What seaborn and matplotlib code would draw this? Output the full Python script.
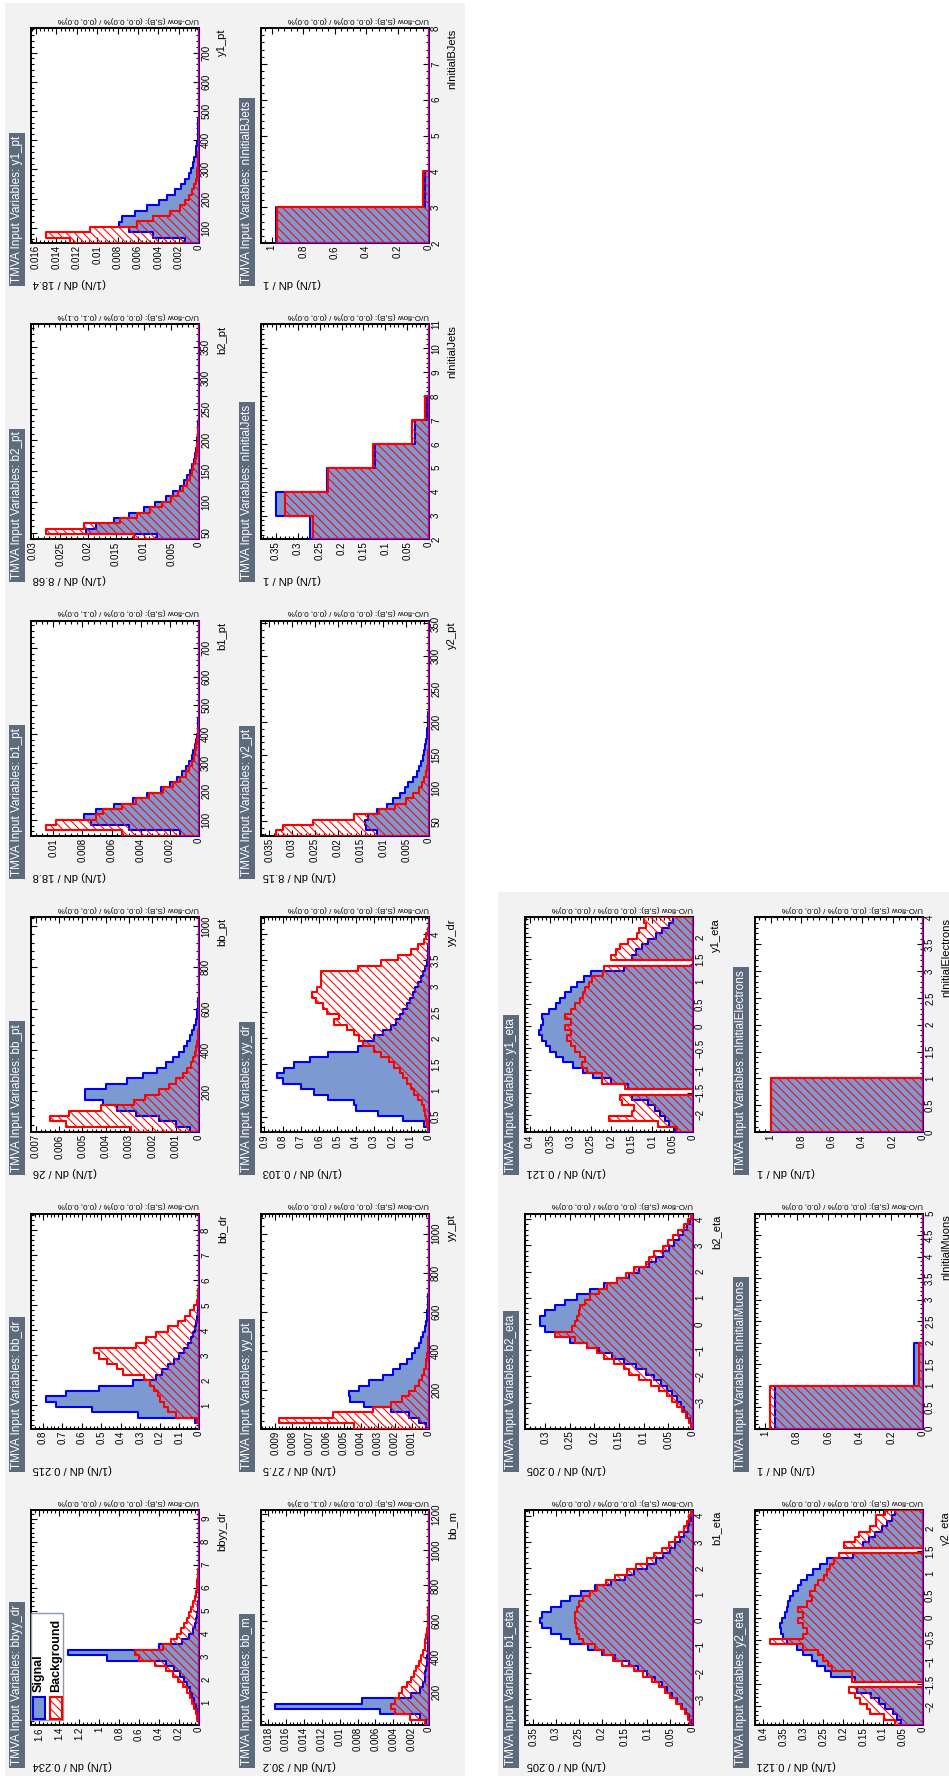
import numpy as np
import matplotlib
matplotlib.use("Agg")
import matplotlib.pyplot as plt
import seaborn as sns
from matplotlib.patches import Rectangle
from matplotlib.ticker import MultipleLocator, AutoMinorLocator, FuncFormatter

plt.rcParams["font.family"] = ["Liberation Sans", "DejaVu Sans"]
plt.rcParams["hatch.linewidth"] = 0.75
plt.rcParams["hatch.color"] = "#ff0000"

# ---------------------------------------------------------------- data
variables = ["bbyy_dr", "bb_m", "bb_dr", "yy_pt", "bb_pt", "yy_dr",
             "b1_pt", "y2_pt", "b2_pt", "nInitialJets", "y1_pt", "nInitialBJets",
             "b1_eta", "y2_eta", "b2_eta", "nInitialMuons", "y1_eta", "nInitialElectrons"]

range_lo = [0.02, 16, 0.05, 2, 3, 0.2,
            44, 28, 39, 2, 48, 2,
            -3.98, -2.42, -3.99, 0, -2.39, 0]
bin_width = [0.234, 30.2, 0.215, 27.5, 26, 0.103,
             18.8, 8.15, 8.68, 1, 18.4, 1,
             0.205, 0.121, 0.205, 1, 0.121, 1]
n_bins = [40, 40, 40, 40, 40, 40,
          40, 40, 40, 9, 40, 6,
          40, 40, 40, 5, 40, 4]
width_labels = ["0.234", "30.2", "0.215", "27.5", "26", "0.103",
                "18.8", "8.15", "8.68", "1", "18.4", "1",
                "0.205", "0.121", "0.205", "1", "0.121", "1"]
density_top = [1.683, 0.0188, 0.86, 0.00984, 0.00721, 0.918,
               0.01153, 0.0368, 0.0303, 0.384, 0.0165, 1.068,
               0.368, 0.421, 0.341, 1.064, 0.412, 1.103]
density_step = [0.2, 0.002, 0.1, 0.001, 0.001, 0.1,
                0.002, 0.005, 0.005, 0.05, 0.002, 0.2,
                0.05, 0.05, 0.05, 0.2, 0.05, 0.2]
var_step = [1, 200, 1, 200, 200, 0.5,
            100, 50, 50, 1, 100, 1,
            1, 0.5, 1, 0.5, 0.5, 0.5]
uoflow = ["U/O-flow (S,B): (0.0, 0.0)% / (0.0, 0.0)%",
          "U/O-flow (S,B): (0.0, 0.0)% / (0.1, 0.3)%",
          "U/O-flow (S,B): (0.0, 0.0)% / (0.0, 0.0)%",
          "U/O-flow (S,B): (0.0, 0.0)% / (0.0, 0.0)%",
          "U/O-flow (S,B): (0.0, 0.0)% / (0.0, 0.0)%",
          "U/O-flow (S,B): (0.0, 0.0)% / (0.0, 0.0)%",
          "U/O-flow (S,B): (0.0, 0.0)% / (0.1, 0.0)%",
          "U/O-flow (S,B): (0.0, 0.0)% / (0.0, 0.0)%",
          "U/O-flow (S,B): (0.0, 0.0)% / (0.1, 0.1)%",
          "U/O-flow (S,B): (0.0, 0.0)% / (0.0, 0.0)%",
          "U/O-flow (S,B): (0.0, 0.0)% / (0.0, 0.0)%",
          "U/O-flow (S,B): (0.0, 0.0)% / (0.0, 0.0)%",
          "U/O-flow (S,B): (0.0, 0.0)% / (0.0, 0.0)%",
          "U/O-flow (S,B): (0.0, 0.0)% / (0.0, 0.0)%",
          "U/O-flow (S,B): (0.0, 0.0)% / (0.0, 0.0)%",
          "U/O-flow (S,B): (0.0, 0.0)% / (0.0, 0.0)%",
          "U/O-flow (S,B): (0.0, 0.0)% / (0.0, 0.0)%",
          "U/O-flow (S,B): (0.0, 0.0)% / (0.0, 0.0)%"]

sig_bbyy_dr = [0.0, 0.01, 0.02, 0.035, 0.05, 0.07, 0.09, 0.12, 0.15, 0.19,
               0.25, 0.33, 0.92, 1.31, 0.40, 0.17, 0.10, 0.065, 0.045, 0.03,
               0.02, 0.013, 0.008, 0.005, 0.003, 0.002, 0.001] + [0.0] * 13
bkg_bbyy_dr = [0.005, 0.02, 0.035, 0.05, 0.07, 0.09, 0.12, 0.16, 0.21, 0.26,
               0.33, 0.44, 0.60, 0.64, 0.36, 0.28, 0.22, 0.18, 0.15, 0.12,
               0.10, 0.08, 0.06, 0.045, 0.035, 0.025, 0.018, 0.012, 0.008, 0.005,
               0.003, 0.002, 0.001] + [0.0] * 7

sig_bb_m = [0.0003, 0.0010, 0.0055, 0.0172, 0.0075, 0.0020, 0.0010, 0.0007, 0.0005, 0.0004,
            0.0003, 0.00025, 0.0002, 0.00015, 0.00012, 0.0001, 0.00008, 0.00006, 0.00005, 0.00004,
            0.00003, 0.00002, 0.00002, 0.00001, 0.00001] + [0.0] * 15
bkg_bb_m = [0.0005, 0.0021, 0.0038, 0.0043, 0.0038, 0.0034, 0.0030, 0.0025, 0.0020, 0.0017,
            0.0014, 0.0011, 0.0009, 0.0007, 0.0005, 0.0004, 0.0003, 0.00022, 0.00016, 0.00012,
            0.00009, 0.00007, 0.00005, 0.00004, 0.00003, 0.00002, 0.00001, 0.00001] + [0.0] * 12

sig_bb_dr = [0.0, 0.02, 0.31, 0.55, 0.73, 0.785, 0.68, 0.51, 0.34, 0.22,
             0.19, 0.16, 0.13, 0.10, 0.075, 0.055, 0.04, 0.03, 0.022, 0.015,
             0.01, 0.007, 0.005, 0.003, 0.002, 0.001, 0.001] + [0.0] * 13
bkg_bb_dr = [0.0, 0.01, 0.12, 0.16, 0.18, 0.20, 0.21, 0.23, 0.25, 0.28,
             0.39, 0.42, 0.47, 0.51, 0.54, 0.32, 0.27, 0.22, 0.16, 0.11,
             0.07, 0.045, 0.025, 0.012, 0.006, 0.003, 0.002, 0.001] + [0.0] * 12

sig_yy_pt = [0.0002, 0.0006, 0.0012, 0.0022, 0.0038, 0.0046, 0.0047, 0.0041, 0.0035, 0.0027,
             0.0021, 0.0017, 0.0013, 0.0010, 0.0008, 0.0006, 0.00045, 0.00035, 0.00025, 0.00018,
             0.00013, 0.0001, 0.00007, 0.00005, 0.00003, 0.00002, 0.00001] + [0.0] * 13
bkg_yy_pt = [0.0044, 0.0088, 0.0056, 0.0033, 0.0022, 0.0016, 0.0012, 0.0008, 0.0006, 0.0004,
             0.0003, 0.0002, 0.00015, 0.0001, 0.00007, 0.00005, 0.00003, 0.00002, 0.00001] + [0.0] * 21

sig_bb_pt = [0.0004, 0.0010, 0.0017, 0.0027, 0.0035, 0.0041, 0.0049, 0.0049, 0.0040, 0.0031,
             0.0024, 0.0018, 0.0014, 0.0011, 0.00085, 0.00065, 0.0005, 0.00037, 0.00028, 0.0002,
             0.00014, 0.0001, 0.00007, 0.00005, 0.00003, 0.00002, 0.00001] + [0.0] * 13
bkg_bb_pt = [0.0029, 0.0057, 0.0064, 0.0056, 0.0042, 0.0028, 0.0023, 0.0017, 0.0013, 0.0010,
             0.0007, 0.0005, 0.00035, 0.00025, 0.00018, 0.00012, 0.00008, 0.00005, 0.00003, 0.00002,
             0.00001] + [0.0] * 19

sig_yy_dr = [0.0, 0.03, 0.14, 0.28, 0.40, 0.41, 0.55, 0.63, 0.70, 0.80,
             0.83, 0.79, 0.74, 0.65, 0.55, 0.39, 0.36, 0.30, 0.25, 0.21,
             0.18, 0.16, 0.14, 0.12, 0.105, 0.09, 0.075, 0.06, 0.045, 0.032,
             0.02, 0.012, 0.008, 0.005, 0.003, 0.002, 0.001, 0.0, 0.0, 0.0]
bkg_yy_dr = [0.005, 0.01, 0.015, 0.02, 0.03, 0.04, 0.06, 0.08, 0.10, 0.12,
             0.14, 0.16, 0.19, 0.22, 0.26, 0.30, 0.36, 0.38, 0.41, 0.45,
             0.52, 0.49, 0.56, 0.58, 0.62, 0.64, 0.61, 0.59, 0.59, 0.59,
             0.39, 0.26, 0.17, 0.10, 0.06, 0.03, 0.015, 0.005, 0.0, 0.0]

sig_b1_pt = [0.0013, 0.0048, 0.0074, 0.0079, 0.0071, 0.0058, 0.0045, 0.0036, 0.0026, 0.0020,
             0.0015, 0.0012, 0.0009, 0.0007, 0.0005, 0.0004, 0.0003, 0.0002, 0.00015, 0.0001,
             0.00007, 0.00005, 0.00003, 0.00002, 0.00001] + [0.0] * 15
bkg_b1_pt = [0.0053, 0.0105, 0.0098, 0.0071, 0.0066, 0.0053, 0.0043, 0.0034, 0.0025, 0.0018,
             0.0013, 0.0009, 0.0007, 0.0005, 0.00035, 0.00025, 0.00018, 0.00012, 0.00008, 0.00005,
             0.00003, 0.00002, 0.00001] + [0.0] * 17

sig_y2_pt = [0.0115, 0.0138, 0.0140, 0.0133, 0.0115, 0.0093, 0.0078, 0.0064, 0.0053, 0.0045,
             0.0034, 0.0027, 0.0022, 0.0018, 0.0014, 0.0011, 0.0009, 0.0007, 0.0005, 0.0004,
             0.0003, 0.0002, 0.00015, 0.0001, 0.00007, 0.00005, 0.00003, 0.00002, 0.00001] + [0.0] * 11
bkg_y2_pt = [0.0335, 0.0320, 0.0255, 0.0165, 0.0110, 0.0075, 0.0050, 0.0034, 0.0022, 0.0015,
             0.0010, 0.0007, 0.0005, 0.0003, 0.0002, 0.00015, 0.0001, 0.00007, 0.00005, 0.00003,
             0.00002, 0.00001] + [0.0] * 18

sig_b2_pt = [0.0076, 0.0203, 0.0185, 0.0154, 0.0127, 0.0100, 0.0079, 0.0060, 0.0046, 0.0035,
             0.0027, 0.0021, 0.0016, 0.0012, 0.0009, 0.0007, 0.0005, 0.0004, 0.0003, 0.0002,
             0.00015, 0.0001, 0.00007, 0.00005, 0.00003, 0.00002, 0.00001] + [0.0] * 13
bkg_b2_pt = [0.0118, 0.0276, 0.0208, 0.0142, 0.0112, 0.0088, 0.0066, 0.0050, 0.0038, 0.0029,
             0.0022, 0.0017, 0.0013, 0.0010, 0.0007, 0.0005, 0.0004, 0.0003, 0.0002, 0.00015,
             0.0001, 0.00007, 0.00005, 0.00003, 0.00002, 0.00001] + [0.0] * 14

sig_nInitialJets = [0.272, 0.35, 0.234, 0.124, 0.032, 0.005, 0.0, 0.0, 0.0]
bkg_nInitialJets = [0.266, 0.33, 0.231, 0.129, 0.040, 0.009, 0.001, 0.0, 0.0]

sig_y1_pt = [0.0014, 0.0045, 0.0069, 0.0079, 0.0076, 0.0063, 0.0051, 0.0039, 0.0031, 0.0024,
             0.0018, 0.0014, 0.0010, 0.0008, 0.0006, 0.00045, 0.00034, 0.00025, 0.00018, 0.00013,
             0.0001, 0.00007, 0.00005, 0.00003, 0.00002, 0.00001] + [0.0] * 14
bkg_y1_pt = [0.0127, 0.0150, 0.0107, 0.0061, 0.0045, 0.0028, 0.0019, 0.0014, 0.0010, 0.0007,
             0.0005, 0.0003, 0.0002, 0.00015, 0.0001, 0.00007, 0.00005, 0.00003, 0.00002, 0.00001] + [0.0] * 20

sig_nInitialBJets = [0.972, 0.028, 0.0, 0.0, 0.0, 0.0]
bkg_nInitialBJets = [0.964, 0.036, 0.0, 0.0, 0.0, 0.0]

sig_b1_eta = [0.004, 0.009, 0.015, 0.024, 0.035, 0.045, 0.057, 0.068, 0.083, 0.10,
              0.12, 0.14, 0.17, 0.20, 0.23, 0.27, 0.29, 0.31, 0.33, 0.335,
              0.33, 0.31, 0.29, 0.27, 0.245, 0.215, 0.18, 0.15, 0.13, 0.10,
              0.08, 0.065, 0.05, 0.04, 0.028, 0.02, 0.012, 0.008, 0.004, 0.002]
bkg_b1_eta = [0.006, 0.012, 0.018, 0.027, 0.038, 0.05, 0.062, 0.075, 0.09, 0.11,
              0.13, 0.155, 0.175, 0.195, 0.215, 0.24, 0.25, 0.255, 0.257, 0.258,
              0.258, 0.255, 0.25, 0.24, 0.225, 0.21, 0.19, 0.17, 0.145, 0.125,
              0.10, 0.085, 0.068, 0.052, 0.04, 0.03, 0.02, 0.013, 0.008, 0.004]

sig_y2_eta = [0.056, 0.065, 0.075, 0.094, 0.11, 0.13, 0.165, 0.0, 0.17, 0.23,
              0.245, 0.265, 0.278, 0.30, 0.315, 0.34, 0.352, 0.356, 0.358, 0.354,
              0.347, 0.342, 0.338, 0.333, 0.325, 0.313, 0.305, 0.29, 0.275, 0.258,
              0.24, 0.175, 0.0, 0.15, 0.135, 0.12, 0.103, 0.09, 0.078, 0.069]
bkg_y2_eta = [0.069, 0.098, 0.132, 0.14, 0.157, 0.17, 0.186, 0.0, 0.178, 0.178,
              0.228, 0.237, 0.25, 0.262, 0.30, 0.383, 0.30, 0.291, 0.30, 0.312,
              0.30, 0.312, 0.291, 0.278, 0.283, 0.27, 0.262, 0.249, 0.24, 0.232,
              0.224, 0.211, 0.0, 0.199, 0.17, 0.16, 0.132, 0.119, 0.119, 0.094]

sig_b2_eta = [0.003, 0.007, 0.012, 0.018, 0.025, 0.033, 0.042, 0.052, 0.065, 0.08,
              0.095, 0.115, 0.14, 0.165, 0.19, 0.215, 0.25, 0.28, 0.30, 0.31,
              0.31, 0.30, 0.28, 0.26, 0.235, 0.21, 0.18, 0.155, 0.13, 0.11,
              0.09, 0.075, 0.06, 0.048, 0.038, 0.028, 0.02, 0.012, 0.007, 0.003]
bkg_b2_eta = [0.004, 0.009, 0.014, 0.022, 0.032, 0.042, 0.052, 0.068, 0.085, 0.11,
              0.13, 0.14, 0.16, 0.18, 0.195, 0.215, 0.24, 0.28, 0.245, 0.24,
              0.235, 0.232, 0.23, 0.22, 0.21, 0.19, 0.175, 0.155, 0.135, 0.12,
              0.095, 0.09, 0.08, 0.06, 0.05, 0.04, 0.03, 0.018, 0.01, 0.004]

sig_nInitialMuons = [0.94, 0.06, 0.0, 0.0, 0.0]
bkg_nInitialMuons = [0.972, 0.028, 0.0, 0.0, 0.0]

sig_y1_eta = [0.045, 0.058, 0.068, 0.08, 0.092, 0.11, 0.15, 0.0, 0.16, 0.20,
              0.245, 0.27, 0.295, 0.32, 0.335, 0.35, 0.36, 0.37, 0.378, 0.372,
              0.368, 0.37, 0.352, 0.335, 0.325, 0.315, 0.30, 0.285, 0.268, 0.25,
              0.17, 0.0, 0.15, 0.14, 0.125, 0.11, 0.09, 0.075, 0.06, 0.05]
bkg_y1_eta = [0.04, 0.085, 0.205, 0.15, 0.145, 0.175, 0.178, 0.0, 0.166, 0.223,
              0.223, 0.26, 0.272, 0.264, 0.276, 0.29, 0.30, 0.309, 0.30, 0.313,
              0.30, 0.313, 0.30, 0.29, 0.276, 0.27, 0.264, 0.255, 0.248, 0.22,
              0.219, 0.0, 0.202, 0.19, 0.178, 0.16, 0.137, 0.133, 0.116, 0.12]

sig_nInitialElectrons = [0.998, 0.002, 0.0, 0.0]
bkg_nInitialElectrons = [0.997, 0.003, 0.0, 0.0]

signal = {"bbyy_dr": sig_bbyy_dr, "bb_m": sig_bb_m, "bb_dr": sig_bb_dr, "yy_pt": sig_yy_pt,
          "bb_pt": sig_bb_pt, "yy_dr": sig_yy_dr, "b1_pt": sig_b1_pt, "y2_pt": sig_y2_pt,
          "b2_pt": sig_b2_pt, "nInitialJets": sig_nInitialJets, "y1_pt": sig_y1_pt,
          "nInitialBJets": sig_nInitialBJets, "b1_eta": sig_b1_eta, "y2_eta": sig_y2_eta,
          "b2_eta": sig_b2_eta, "nInitialMuons": sig_nInitialMuons, "y1_eta": sig_y1_eta,
          "nInitialElectrons": sig_nInitialElectrons}
background = {"bbyy_dr": bkg_bbyy_dr, "bb_m": bkg_bb_m, "bb_dr": bkg_bb_dr, "yy_pt": bkg_yy_pt,
              "bb_pt": bkg_bb_pt, "yy_dr": bkg_yy_dr, "b1_pt": bkg_b1_pt, "y2_pt": bkg_y2_pt,
              "b2_pt": bkg_b2_pt, "nInitialJets": bkg_nInitialJets, "y1_pt": bkg_y1_pt,
              "nInitialBJets": bkg_nInitialBJets, "b1_eta": bkg_b1_eta, "y2_eta": bkg_y2_eta,
              "b2_eta": bkg_b2_eta, "nInitialMuons": bkg_nInitialMuons, "y1_eta": bkg_y1_eta,
              "nInitialElectrons": bkg_nInitialElectrons}

# ---------------------------------------------------------------- style
CANVAS = "#f2f2f2"
TITLE_BG = "#5d6b7d"
SIG_FILL = "#7d99d1"
SIG_LINE = "#0000ee"
BKG_LINE = "#ff0000"
HATCH = "\\\\\\\\"

# (column, row) of every pad; the page is laid out sideways
grid = [(0, 5), (1, 5), (0, 4), (1, 4), (0, 3), (1, 3),
        (0, 2), (1, 2), (0, 1), (1, 1), (0, 0), (1, 0),
        (2, 5), (3, 5), (2, 4), (3, 4), (2, 3), (3, 3)]
col_x = [31, 261, 525, 755]
FRAME_W, FRAME_H = 168, 215


def row_top(r):
    return 28 + 296.4 * r


W, H = 949, 1778
fig = plt.figure(figsize=(W / 100, H / 100), dpi=100)
fig.patch.set_facecolor("white")


def add_rect(x0, y0, x1, y1, **kw):
    r = Rectangle((x0 / W, 1 - y1 / H), (x1 - x0) / W, (y1 - y0) / H,
                  transform=fig.transFigure, **kw)
    fig.add_artist(r)
    return r


def root_label(v, pos):
    v = round(v, 6)
    if v == 0:
        return "0"
    return f"{v:g}".replace("-", "\u2212")


def centers(edges):
    return 0.5 * (edges[:-1] + edges[1:])


# canvases
add_rect(5, 3, 465, 1776, facecolor=CANVAS, edgecolor="none", zorder=-2)
add_rect(498, 892, 949, 1776, facecolor=CANVAS, edgecolor="none", zorder=-2)

title_items = []
for i, var in enumerate(variables):
    col, row = grid[i]
    x0 = col_x[col]
    x1 = x0 + FRAME_W
    top = row_top(row)
    bottom = top + FRAME_H
    ax = fig.add_axes([x0 / W, 1 - bottom / H, FRAME_W / W, FRAME_H / H])
    ax.set_facecolor("white")

    lo, w = range_lo[i], bin_width[i]
    sig = np.asarray(signal[var], dtype=float)
    bkg = np.asarray(background[var], dtype=float)
    e_s = lo + w * np.arange(len(sig) + 1)
    e_b = lo + w * np.arange(len(bkg) + 1)

    sns.histplot(y=centers(e_s), weights=sig, bins=e_s.tolist(), element="step", fill=True,
                 color=SIG_FILL, alpha=1, facecolor=SIG_FILL, edgecolor=SIG_LINE,
                 linewidth=1.5, zorder=3, ax=ax)
    sns.histplot(y=centers(e_b), weights=bkg, bins=e_b.tolist(), element="step", fill=True,
                 color=BKG_LINE, alpha=1, facecolor="none", edgecolor=BKG_LINE,
                 hatch=HATCH, linewidth=1.5, zorder=4, ax=ax)

    ax.set_xlim(density_top[i], 0)
    ax.set_ylim(lo, lo + w * n_bins[i])
    ax.set_xlabel("")
    ax.set_ylabel("")
    ax.xaxis.set_major_locator(MultipleLocator(density_step[i]))
    ax.xaxis.set_minor_locator(AutoMinorLocator(5))
    ax.yaxis.set_major_locator(MultipleLocator(var_step[i]))
    ax.yaxis.set_minor_locator(AutoMinorLocator(5))
    ax.xaxis.set_major_formatter(FuncFormatter(root_label))
    ax.yaxis.set_major_formatter(FuncFormatter(root_label))
    ax.tick_params(which="both", direction="in", bottom=True, top=True, left=True,
                   right=True, labelbottom=True, labeltop=False, labelleft=False,
                   labelright=True, colors="black", labelsize=7, pad=1.5)
    ax.tick_params(axis="x", labelrotation=90)
    ax.tick_params(axis="y", labelrotation=90)
    ax.tick_params(which="major", length=4.5, width=0.8)
    ax.tick_params(which="minor", length=2.2, width=0.8)
    for lab in ax.get_yticklabels():
        lab.set_verticalalignment("center")
    for s in ax.spines.values():
        s.set_linewidth(1.4)
        s.set_color("black")

    # axis titles and under/overflow note
    fig.text(x0 / W + 2 / W, 1 - (bottom + 40) / H, f"(1/N) dN / {width_labels[i]}",
             rotation=180, ha="left", va="center", fontsize=8)
    fig.text((x1 + 23) / W, 1 - (top + 1) / H, var, rotation=90,
             ha="center", va="top", fontsize=8)
    fig.text(x1 / W, 1 - (top - 9) / H, uoflow[i], rotation=180,
             ha="right", va="center", fontsize=5.8)
    t = fig.text((x0 - 14) / W, 1 - (bottom + 40) / H, f"TMVA Input Variables: {var}",
                 rotation=90, ha="center", va="bottom", color="white",
                 fontsize=8.5, zorder=6)
    title_items.append((t, x0, bottom))

    if var == "bbyy_dr":
        add_rect(31, 1613, 63, 1720, facecolor="white", edgecolor="#8c9aa8",
                 linewidth=1.0, zorder=7)
        add_rect(33, 1697, 45, 1719, facecolor=SIG_FILL, edgecolor=SIG_LINE,
                 linewidth=1.5, zorder=8)
        add_rect(50, 1697, 62, 1719, facecolor="white", edgecolor=BKG_LINE,
                 hatch=HATCH, linewidth=1.5, zorder=8)
        fig.text(39 / W, 1 - 1692 / H, "Signal", rotation=90, ha="center",
                 va="bottom", fontsize=9, fontweight="bold", zorder=9)
        fig.text(56 / W, 1 - 1692 / H, "Background", rotation=90, ha="center",
                 va="bottom", fontsize=9, fontweight="bold", zorder=9)

# title boxes sized to their text
fig.canvas.draw()
renderer = fig.canvas.get_renderer()
for t, x0, bottom in title_items:
    bb = t.get_window_extent(renderer)
    text_top = H - bb.y1
    add_rect(x0 - 22, text_top - 3, x0 - 6, bottom + 43,
             facecolor=TITLE_BG, edgecolor="none", zorder=5)

fig.savefig("out.png", dpi=100, facecolor="white")
